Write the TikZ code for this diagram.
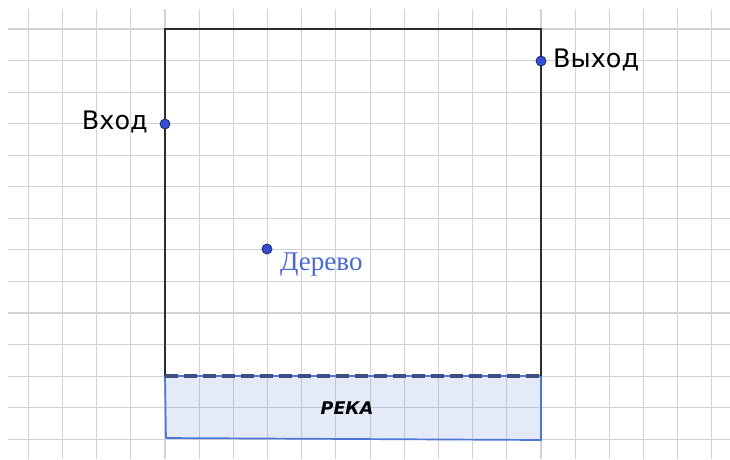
\documentclass[tikz,border=0pt]{standalone}
\usepackage{fontspec}
\setmainfont{Liberation Serif}
\newfontfamily\labelfont{DejaVu Sans}
\definecolor{gridgray}{RGB}{210,210,210}
\definecolor{framegray}{RGB}{45,45,45}
\definecolor{riveredge}{RGB}{77,119,214}
\definecolor{riverdash}{RGB}{62,78,128}
\definecolor{ptfill}{RGB}{52,78,208}
\definecolor{ptedge}{RGB}{30,40,110}
\definecolor{treeblue}{RGB}{72,106,205}
\tikzset{
  gridline/.style={draw=gridgray, line width=1.1pt},
  frameline/.style={draw=framegray, line width=2.1pt},
  riverbox/.style={fill=riveredge, fill opacity=0.15, draw=riveredge, draw opacity=1, line width=1.7pt, line join=round},
  shoreline/.style={draw=riverdash, line width=3.4pt, dash pattern=on 13pt off 6pt},
  pt/.style={circle, fill=ptfill, draw=ptedge, line width=0.8pt, inner sep=0pt, minimum size=10pt},
  biglabel/.style={font=\labelfont\fontsize{25.5}{28}\selectfont, text=black, inner sep=0pt},
}
\begin{document}
\begin{tikzpicture}[x=1pt,y=-1pt]
  \useasboundingbox (0,0) rectangle (730,459);
  \fill[white] (0,0) rectangle (730,459);
  % background grid
  \foreach \k in {-4,...,16}
    \draw[gridline] ({165+34.18*\k},9) -- ({165+34.18*\k},459);
  \foreach \k in {0,...,13}
    \draw[gridline] (8,{29+31.55*\k}) -- (730,{29+31.55*\k});
  % river, translucent so the grid shows through
  \coordinate (r1) at (165,376);
  \coordinate (r2) at (541,376);
  \coordinate (r3) at (541,440);
  \coordinate (r4) at (166,438);
  \path[riverbox] (r1) -- (r2) -- (r3) -- (r4) -- cycle;
  \node[font=\labelfont\bfseries\itshape\fontsize{17.5}{20}\selectfont, inner sep=0pt] (reka) at (347,408.5) {РЕКА};
  % field boundary
  \coordinate (tl) at (165,29);
  \coordinate (tr) at (541,29);
  \draw[frameline, line join=miter] (r1) -- (tl) -- (tr) -- (r2);
  \draw[shoreline] (r1) -- (r2);
  % points
  \node[pt] (vhod) at (165,124) {};
  \node[pt] (vyhod) at (541,61) {};
  \node[pt] (tree) at (267,249) {};
  \node[biglabel, anchor=east] (vhodlbl) at (148,122) {Вход};
  \node[biglabel, anchor=west] (vyhodlbl) at (553,60) {Выход};
  \node[font=\fontsize{27}{30}\selectfont, text=treeblue, inner sep=0pt, anchor=base west] (treelbl) at (280,270) {Дерево};
\end{tikzpicture}
\end{document}
